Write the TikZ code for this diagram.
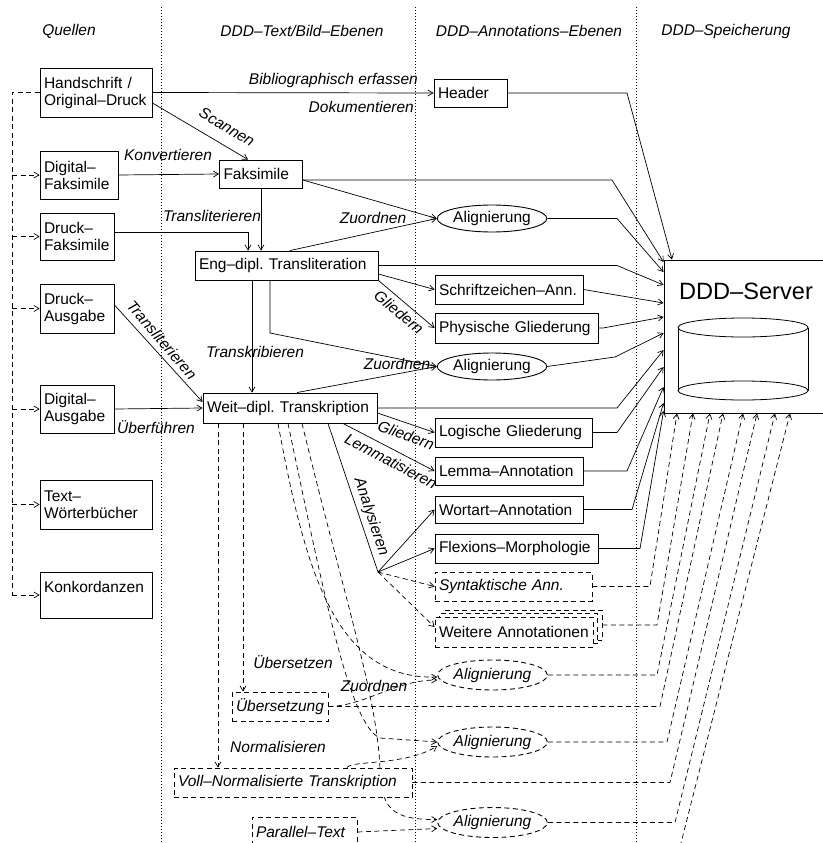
\documentclass[tikz,border=0pt]{standalone}
\usepackage{fontspec}
\setmainfont{Liberation Sans}
\usetikzlibrary{shapes.geometric,arrows.meta,calc}
\pgfdeclarelayer{bg}
\pgfsetlayers{bg,main}
\begin{document}
\frenchspacing
\begin{tikzpicture}[x=1pt,y=-1pt,
  every node/.style={font=\fontsize{15.5}{17}\selectfont},
  box/.style={draw, line width=0.9pt, rectangle, inner xsep=4pt, inner ysep=0pt, align=left, anchor=center, fill=white},
  bx/.style 2 args={text width=#1, minimum height=#2},
  dsh/.style={dash pattern=on 5pt off 3.5pt},
  dbox/.style={box, dsh, font=\fontsize{15.5}{17}\selectfont\itshape},
  ell/.style={draw, line width=0.9pt, ellipse, inner sep=0pt, minimum width=106pt, minimum height=27pt, fill=white},
  dell/.style={ell, dsh, minimum width=99pt, minimum height=30pt, font=\fontsize{15.5}{17}\selectfont\itshape},
  lbl/.style={font=\fontsize{15.5}{17}\selectfont\itshape, inner sep=0pt},
  con/.style={line width=0.7pt, -{Straight Barb[length=5pt,width=6pt]}},
  dcon/.style={con, dsh},
  ln/.style={line width=0.7pt},
  sep/.style={line width=0.9pt, dash pattern=on 1pt off 2pt},
]
\useasboundingbox (0,0) rectangle (822,843);

% column separators
\draw[sep] (161,7) -- (161,843);
\draw[sep] (415,7) -- (415,843);
\draw[sep] (636,7) -- (636,843);

% headers
\node[lbl] (h1) at (69,31) {Quellen};
\node[lbl] (h2) at (302,31) {DDD–Text/Bild–Ebenen};
\node[lbl] (h3) at (529,31) {DDD–Annotations–Ebenen};
\node[lbl] (h4) at (726,31) {DDD–Speicherung};

% sources
\node[box, bx={104pt}{49pt}] (hs)  at (96,92.5)  {Handschrift /\\Original–Druck};
\node[box, bx={70pt}{48pt}]  (df)  at (79,175)   {Digital–\\Faksimile};
\node[box, bx={66pt}{47pt}]  (drf) at (77,236.5) {Druck–\\Faksimile};
\node[box, bx={66pt}{49pt}]  (da)  at (77,308.5) {Druck–\\Ausgabe};
\node[box, bx={66pt}{48pt}]  (dga) at (77,409)   {Digital–\\Ausgabe};
\node[box, bx={104pt}{49pt}] (twb) at (96,504.5) {Text–\\Wörterbücher};
\node[box, bx={104pt}{46pt}] (ko)  at (96,595)   {Konkordanzen\\\mbox{}};

% text / image levels
\node[box, bx={75pt}{28pt}]  (fak)  at (261,174)    {Faksimile};
\node[box, bx={175pt}{29pt}] (eng)  at (286.5,265.5) {Eng–dipl. Transliteration};
\node[box, bx={166pt}{30pt}] (weit) at (290,408)    {Weit–dipl. Transkription};
\node[dbox, bx={88pt}{29pt}]  (ueb)  at (280,706.5) {Übersetzung};
\node[dbox, bx={230pt}{29pt}] (voll) at (293,782.5) {Voll–Normalisierte Transkription};
\node[dbox, bx={97pt}{30pt}]  (par)  at (304.5,832) {Parallel–Text};

% annotation levels
\node[box, bx={65pt}{28pt}]  (head) at (470.5,93)  {Header};
\node[ell] (al1) at (492,218.5) {Alignierung};
\node[box, bx={140pt}{29pt}] (sz)   at (509,289.5) {Schriftzeichen–Ann.};
\node[box, bx={155pt}{30pt}] (pg)   at (516.5,328) {Physische Gliederung};
\node[ell] (al2) at (492,366.5) {Alignierung};
\node[box, bx={149pt}{29pt}] (lg)   at (513.5,432.5) {Logische Gliederung};
\node[box, bx={140pt}{28pt}] (lem)  at (509,471)   {Lemma–Annotation};
\node[box, bx={140pt}{27pt}] (wa)   at (509,509.5) {Wortart–Annotation};
\node[box, bx={155pt}{29pt}] (fm)   at (516.5,548.5) {Flexions–Morphologie};
\node[dbox, bx={149pt}{29pt}] (syn) at (513.5,586.5) {Syntaktische Ann.};
\node[box, dsh, bx={150pt}{30pt}] (wei3) at (523,625) {};
\node[box, dsh, bx={150pt}{30pt}] (wei2) at (518.5,628.5) {};
\node[box, dsh, bx={150pt}{30pt}] (wei)  at (514,632) {Weitere Annotationen};
\node[dell] (ad1) at (492.5,675) {Alignierung};
\node[dell] (ad2) at (492.5,742) {Alignierung};
\node[dell] (ad3) at (492.5,822.5) {Alignierung};

% server
\node[draw, line width=0.9pt, minimum width=176pt, minimum height=153pt, inner sep=0pt] (srv) at (752,336.5) {};
\node[font=\fontsize{23.6}{26}\selectfont, inner sep=0pt] (srvl) at (746,291) {DDD–Server};
\draw[line width=0.8pt] (743,327.5) ellipse [x radius=65pt, y radius=9.5pt];
\draw[line width=0.8pt] (743,390.5) ellipse [x radius=65pt, y radius=9.5pt];
\draw[line width=0.8pt] (678,327.5) -- (678,390.5) (808,327.5) -- (808,390.5);

% source bus
\draw[ln, dsh] (hs.west) -| (ko.west -| 12,0);
\foreach \n in {df,drf,da,dga,twb,ko} \draw[dcon] (\n.west -| 12,0) -- (\n.west);

% source -> levels
\draw[con] (hs.east) -- (head.west);
\node[lbl, anchor=east] at (418,80) {Bibliographisch erfassen};
\node[lbl, anchor=east] at (414,107) {Dokumentieren};
\draw[con] ($(hs.east)+(0,10.5)$) -- (fak.north -| 248,0);
\node[lbl, rotate=-30.7] at (227,127) {Scannen};
\draw[con] (df.east) -- (fak.west);
\node[lbl] at (168,155) {Konvertieren};
\draw[con] (fak.south) -- (fak.south |- eng.north);
\draw[con] (drf.east |- 0,232) -| (eng.north -| 248,0);
\node[lbl] at (212,216) {Transliterieren};
\draw[con] ($(fak.east)+(0,6)$) -- (al1.west);
\draw[con] (eng.north -| 290,0) -- (al1.west);
\node[lbl] at (373,218) {Zuordnen};
\draw[con] ($(eng.east)+(0,8.5)$) -- (sz.west);
\draw[con] (eng.south east) -- (pg.west);
\node[lbl, rotate=-39.5] at (399,312) {Gliedern};
\draw[con] (eng.south -| 270,0) -- (270,333) -- (al2.west);
\draw[con] (weit.north -| 297,0) -- (al2.west);
\node[lbl] at (397,364) {Zuordnen};
\draw[con] (eng.south -| 252,0) -- (weit.north -| 252,0);
\node[lbl] at (255,352) {Transkribieren};
\draw[con] (da.east |- 0,305) -- ($(weit.west)+(0,-6)$);
\node[lbl, rotate=-49.4] at (162,340) {Transliterieren};
\draw[con] (dga.east) -- (weit.west);
\node[lbl] at (156,427) {Überführen};
\draw[con] ($(weit.east)+(0,5)$) -- (lg.west);
\node[lbl, rotate=-20] at (406,435) {Gliedern};
\draw[con] (weit.south -| 343,0) -- (lem.west);
\node[lbl, rotate=-28] at (391,461) {Lemmatisieren};
\coordinate (A) at (378,572);
\draw[ln] (weit.south -| 328,0) -- (A);
\node[lbl, rotate=-71.4] at (371,517) {Analysieren};
\draw[con] (A) -- (wa.west);
\draw[con] (A) -- (fm.west);
\draw[dcon] (A) -- (syn.west);
\draw[dcon] (A) -- ($(wei.west)+(0,-5)$);
\draw[dcon] (weit.south -| 243,0) -- (ueb.north -| 243,0);
\node[lbl] at (293,662) {Übersetzen};
\draw[dcon] (weit.south -| 218,0) -- (voll.north -| 218,0);
\node[lbl] at (278,747) {Normalisieren};

% dashed alignments
\draw[dcon] (weit.south -| 278,0) .. controls (305,570) and (335,680) .. ($(ad1.west)+(0,2)$);
\draw[dcon] (weit.south -| 288,0) .. controls (325,600) and (350,725) .. (380,738) -- (ad2.west);
\begin{pgfonlayer}{bg}
\draw[dcon] (weit.south -| 302,0) .. controls (345,600) and (378,700) .. (380,770)
   .. controls (382,805) and (388,820) .. ($(ad3.west)+(0,-3)$);
\end{pgfonlayer}
\draw[dcon] (ueb.east) .. controls (365,706) and (395,680) .. ($(ad1.west)+(0,5)$);
\node[lbl] at (374,686) {Zuordnen};
\draw[dcon] (voll.north -| 347,0) .. controls (352,760) and (405,766) .. ($(ad2.west)+(0,4)$);
\draw[dcon] (par.east) -- ($(ad3.west)+(0,6)$);

% solid to server
\draw[con] (head.east) -- (627,93) -- (srv.north -| 672,0);
\draw[con] ($(fak.east)+(0,6)$) -- (612,180) -- (srv.west |- 0,262);
\draw[con] (al1.east) -- (617,218.5) -- (srv.west |- 0,272);
\draw[con] (eng.east) -- (617,265.5) -- (srv.west |- 0,285);
\draw[con] (sz.east) -- (srv.west |- 0,303);
\draw[con] (pg.east) -- (603,328) -- (srv.west |- 0,317);
\draw[con] (al2.east) -- (615,357) -- (srv.west |- 0,333);
\draw[con] (weit.east) -- (617,408) -- (srv.west |- 0,350);
\draw[con] (lg.east) -- (617,432.5) -- (srv.west |- 0,367);
\draw[con] (lem.east) -- (627,471) -- (srv.west |- 0,387);
\draw[con] (wa.east) -- (632,509.5) -- (srv.west |- 0,403);
\draw[con] (fm.east) -- (640,548.5) -- (srv.west |- 0,411);

% dashed to server
\draw[dcon] (syn.east) -- (650,586.5) -- (srv.south -| 677,0);
\draw[dcon] (wei3.east) -- (657,625) -- (srv.south -| 693,0);
\draw[dcon] (ad1.east) -- (657,675) -- (srv.south -| 710,0);
\draw[dcon] (ueb.east) -- (660,706.5) -- (srv.south -| 723,0);
\draw[dcon] (ad2.east) -- (667,742) -- (srv.south -| 743,0);
\draw[dcon] (voll.east) -- (670,782.5) -- (srv.south -| 757,0);
\draw[dcon] (ad3.east) -- (675,822.5) -- (srv.south -| 775,0);
\draw[dcon] (par.south east) -- (680,847) -- (srv.south -| 790,0);
\end{tikzpicture}
\end{document}
